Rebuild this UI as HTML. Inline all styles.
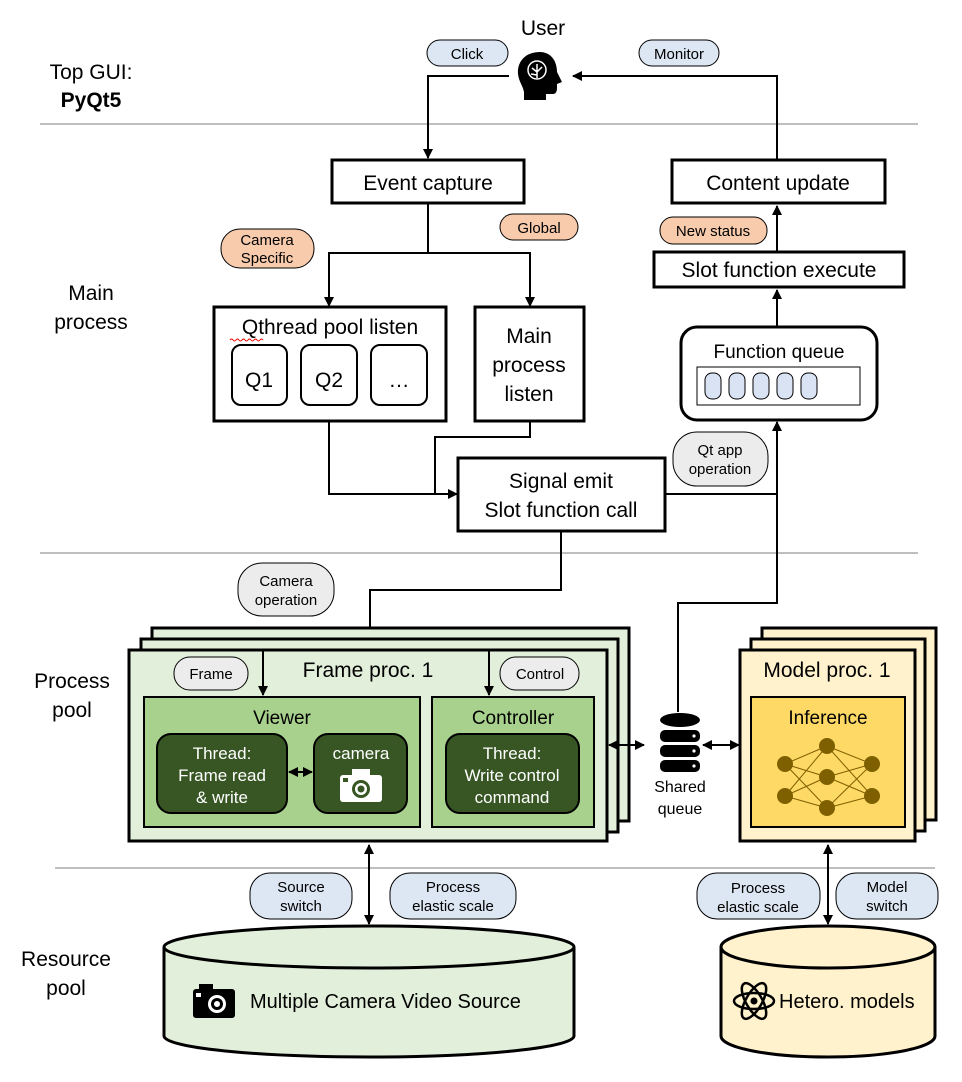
<!DOCTYPE html>
<html><head><meta charset="utf-8"><style>
html,body{margin:0;padding:0;background:#fff;}
svg{display:block;font-family:"Liberation Sans",Arial,sans-serif;}
</style></head><body>
<svg width="962" height="1082" viewBox="0 0 962 1082" xmlns="http://www.w3.org/2000/svg">
<defs>
<marker id="a" viewBox="0 0 10 10" refX="9" refY="5" markerWidth="5" markerHeight="5" orient="auto-start-reverse"><path d="M0,0L10,5L0,10z" fill="#000"/></marker>
</defs>
<g stroke="#bfbfbf" stroke-width="2">
<line x1="40" y1="124" x2="918" y2="124"/><line x1="40" y1="553" x2="918" y2="553"/><line x1="55" y1="868" x2="935" y2="868"/>
</g>
<g font-size="21" fill="#000" text-anchor="middle">
<text x="91" y="79">Top GUI:</text><text x="91" y="107" font-weight="bold">PyQt5</text>
<text x="91" y="300">Main</text><text x="91" y="329">process</text>
<text x="72" y="688">Process</text><text x="72" y="717">pool</text>
<text x="66" y="966">Resource</text><text x="66" y="995">pool</text>
<text x="543" y="35">User</text>
</g>
<g fill="#000">
<path d="M540,52 C525,52 517,62 518,74 C519,82 523,86 524,92 L524,100 L546,100 L546,94 L553,94 C556,94 557,91 557,88 L557,84 L562,82 L557,72 C557,60 550,52 540,52z"/>
</g>
<g stroke="#fff" stroke-width="1.5" fill="none"><circle cx="537" cy="70" r="9"/><path d="M537,64v14M532,68l5,4l5,-5M531,74l6,1"/></g>
<g stroke="#000" stroke-width="1" font-size="15" text-anchor="middle">
<rect x="427" y="40" width="81" height="26" rx="13" fill="#dde7f3"/><text x="467" y="59" stroke="none">Click</text>
<rect x="639" y="40" width="80" height="26" rx="13" fill="#dde7f3"/><text x="679" y="59" stroke="none">Monitor</text>
<rect x="221" y="229" width="93" height="39" rx="19" fill="#f8cbad"/><text x="267" y="245" stroke="none">Camera</text><text x="267" y="263" stroke="none">Specific</text>
<rect x="500" y="214" width="78" height="26" rx="13" fill="#f8cbad"/><text x="539" y="233" stroke="none">Global</text>
<rect x="660" y="217" width="107" height="27" rx="13" fill="#f8cbad"/><text x="713" y="236" stroke="none">New status</text>
<rect x="673" y="432" width="95" height="54" rx="24" fill="#ececec"/><text x="720" y="455" stroke="none">Qt app</text><text x="720" y="474" stroke="none">operation</text>
<rect x="238" y="563" width="96" height="53" rx="24" fill="#ececec"/><text x="286" y="586" stroke="none">Camera</text><text x="286" y="605" stroke="none">operation</text>
</g>
<g stroke="#000" stroke-width="2" fill="none">
<polyline points="509,76 428,76 428,158" marker-end="url(#a)"/>
<polyline points="777,160 777,76 573,76" marker-end="url(#a)"/>
<line x1="428" y1="203" x2="428" y2="253"/>
<polyline points="529,253 329,253 329,306" marker-end="url(#a)"/>
<polyline points="529,253 530,253 530,306" marker-end="url(#a)"/>
<line x1="777" y1="252" x2="777" y2="206" marker-end="url(#a)"/>
<line x1="777" y1="327" x2="777" y2="290" marker-end="url(#a)"/>
<polyline points="329,421 329,494 457,494" marker-end="url(#a)"/>
<polyline points="530,421 530,437 435,437 435,494"/>
<polyline points="665,494 777,494"/>
<polyline points="678,712 678,603 777,603 777,422" marker-end="url(#a)"/>
<polyline points="561,531 561,590 370,590 370,649" marker-end="url(#a)"/>
</g>
<g stroke="#000" stroke-width="3" fill="#fff">
<rect x="332" y="160" width="192" height="43"/>
<rect x="672" y="160" width="213" height="43"/>
<rect x="214" y="307" width="232" height="114"/>
<rect x="475" y="307" width="109" height="114"/>
<rect x="654" y="252" width="250" height="35"/>
<rect x="681" y="327" width="196" height="93" rx="16"/>
<rect x="458" y="458" width="207" height="73"/>
</g>
<g stroke="#000" stroke-width="2" fill="#fff">
<rect x="232" y="345" width="55" height="60" rx="9"/><rect x="301" y="345" width="56" height="60" rx="9"/><rect x="371" y="345" width="56" height="60" rx="9"/>
</g>
<rect x="697" y="367" width="163" height="38" fill="#fff" stroke="#000" stroke-width="1"/>
<g fill="#dae3f3" stroke="#000" stroke-width="1">
<rect x="705" y="373" width="16" height="26" rx="7"/><rect x="729" y="373" width="16" height="26" rx="7"/><rect x="753" y="373" width="16" height="26" rx="7"/><rect x="777" y="373" width="16" height="26" rx="7"/><rect x="801" y="373" width="16" height="26" rx="7"/>
</g>
<g font-size="21" text-anchor="middle" fill="#000">
<text x="428" y="190">Event capture</text>
<text x="778" y="190">Content update</text>
<text x="330" y="334">Qthread pool listen</text>
<text x="259" y="387">Q1</text><text x="329" y="387">Q2</text><text x="399" y="387">…</text>
<text x="529" y="343">Main</text><text x="529" y="372">process</text><text x="529" y="401">listen</text>
<text x="779" y="277">Slot function execute</text>
<text x="779" y="358" font-size="19">Function queue</text>
<text x="561" y="488">Signal emit</text><text x="561" y="517">Slot function call</text>
</g>
<path d="M230,340 q1.5,-2 3,0 t3,0 t3,0 t3,0 t3,0 t3,0 t3,0 t3,0 t3,0 t3,0 t3,0" stroke="#e00" stroke-width="1" fill="none"/>
<!-- frame proc stack -->
<g stroke="#000" stroke-width="3" fill="#e2efda">
<rect x="152" y="628" width="477" height="193"/><rect x="141" y="639" width="477" height="193"/><rect x="129" y="650" width="478" height="191"/>
</g>
<g stroke="#000" stroke-width="2" fill="#a9d18e"><rect x="144" y="697" width="276" height="130"/><rect x="432" y="697" width="162" height="130"/></g>
<g stroke="#000" stroke-width="2" fill="#375623"><rect x="157" y="734" width="130" height="79" rx="14"/><rect x="314" y="734" width="93" height="79" rx="14"/><rect x="446" y="734" width="133" height="79" rx="14"/></g>
<g stroke="#000" stroke-width="1" font-size="15" text-anchor="middle">
<rect x="174" y="657" width="74" height="33" rx="16" fill="#ececec"/><text x="211" y="679" stroke="none">Frame</text>
<rect x="500" y="657" width="79" height="33" rx="16" fill="#ececec"/><text x="540" y="679" stroke="none">Control</text>
</g>
<!-- model proc stack -->
<g stroke="#000" stroke-width="3" fill="#fff2cc">
<rect x="762" y="628" width="174" height="192"/><rect x="751" y="639" width="174" height="192"/><rect x="740" y="650" width="175" height="191"/>
</g>
<rect x="751" y="697" width="154" height="130" fill="#ffd966" stroke="#000" stroke-width="2"/>
<g stroke="#000" stroke-width="2" fill="none">
<line x1="263" y1="651" x2="263" y2="695" marker-end="url(#a)"/>
<line x1="489" y1="651" x2="489" y2="695" marker-end="url(#a)"/>
<line x1="289" y1="772" x2="312" y2="772" marker-start="url(#a)" marker-end="url(#a)"/>
<line x1="609" y1="745" x2="644" y2="745" marker-start="url(#a)" marker-end="url(#a)"/>
<line x1="703" y1="745" x2="739" y2="745" marker-start="url(#a)" marker-end="url(#a)"/>
<line x1="369" y1="845" x2="369" y2="924" marker-start="url(#a)" marker-end="url(#a)"/>
<line x1="828" y1="845" x2="828" y2="924" marker-start="url(#a)" marker-end="url(#a)"/>
</g>
<g font-size="21" text-anchor="middle" fill="#000">
<text x="368" y="677">Frame proc. 1</text>
<text x="282" y="724" font-size="19">Viewer</text>
<text x="513" y="724" font-size="19">Controller</text>
<text x="827" y="677">Model proc. 1</text>
<text x="828" y="724" font-size="19">Inference</text>
</g>
<g font-size="17" text-anchor="middle" fill="#fff">
<text x="222" y="759">Thread:</text><text x="222" y="781">Frame read</text><text x="222" y="803">&amp; write</text>
<text x="361" y="759">camera</text>
<text x="512" y="759">Thread:</text><text x="512" y="781">Write control</text><text x="512" y="803">command</text>
</g>
<g><rect x="340" y="775" width="42" height="27" rx="3" fill="#fff"/><rect x="352" y="769" width="18" height="8" fill="#fff"/><circle cx="361" cy="789" r="9" fill="#375623"/><circle cx="361" cy="789" r="6" fill="#fff"/><circle cx="361" cy="789" r="3.5" fill="#375623"/><rect x="343" y="778" width="5" height="4" fill="#375623"/></g>
<g fill="#000">
<ellipse cx="680" cy="720" rx="20" ry="7"/>
<rect x="660" y="730" width="40" height="12" rx="5"/><rect x="660" y="745" width="40" height="12" rx="5"/><rect x="660" y="760" width="40" height="12" rx="5"/>
</g>
<g fill="#fff"><circle cx="694" cy="736" r="1.6"/><circle cx="694" cy="751" r="1.6"/><circle cx="694" cy="766" r="1.6"/></g>
<text x="680" y="792" font-size="16" text-anchor="middle">Shared</text><text x="680" y="814" font-size="16" text-anchor="middle">queue</text>
<g stroke="#7f6000" stroke-width="1">
<path d="M785,764L827,746M785,764L827,777M785,764L827,808M785,796L827,746M785,796L827,777M785,796L827,808M827,746L872,764M827,746L872,796M827,777L872,764M827,777L872,796M827,808L872,764M827,808L872,796"/>
</g>
<g fill="#7f6000"><circle cx="785" cy="764" r="8"/><circle cx="785" cy="796" r="8"/><circle cx="827" cy="746" r="8"/><circle cx="827" cy="777" r="8"/><circle cx="827" cy="808" r="8"/><circle cx="872" cy="764" r="8"/><circle cx="872" cy="796" r="8"/></g>
<g stroke="#000" stroke-width="1" font-size="15" text-anchor="middle">
<rect x="250" y="873" width="102" height="46" rx="20" fill="#dde7f3"/><text x="301" y="892" stroke="none">Source</text><text x="301" y="911" stroke="none">switch</text>
<rect x="390" y="873" width="126" height="46" rx="20" fill="#dde7f3"/><text x="453" y="892" stroke="none">Process</text><text x="453" y="911" stroke="none">elastic scale</text>
<rect x="697" y="873" width="123" height="46" rx="20" fill="#dde7f3"/><text x="758" y="893" stroke="none">Process</text><text x="758" y="912" stroke="none">elastic scale</text>
<rect x="836" y="873" width="102" height="46" rx="20" fill="#dde7f3"/><text x="887" y="892" stroke="none">Model</text><text x="887" y="911" stroke="none">switch</text>
</g>
<g stroke="#000" stroke-width="3">
<path d="M164,947 L164,1036 A205,21 0 0 0 574,1036 L574,947" fill="#e2efda"/>
<ellipse cx="369" cy="947" rx="205" ry="21" fill="#e2efda"/>
<path d="M721,947 L721,1036 A107,21 0 0 0 935,1036 L935,947" fill="#fff2cc"/>
<ellipse cx="828" cy="947" rx="107" ry="21" fill="#fff2cc"/>
</g>
<g><rect x="193" y="989" width="42" height="29" rx="3"/><rect x="199" y="984" width="14" height="7"/><circle cx="217" cy="1004" r="9" fill="#fff"/><circle cx="217" cy="1004" r="6"/><circle cx="217" cy="1004" r="3" fill="#fff"/><rect x="196" y="993" width="5" height="4" fill="#fff"/></g>
<text x="250" y="1008" font-size="20">Multiple Camera Video Source</text>
<g stroke="#000" stroke-width="2.5" fill="none"><ellipse cx="754" cy="1001" rx="20" ry="8" transform="rotate(60 754 1001)"/><ellipse cx="754" cy="1001" rx="20" ry="8" transform="rotate(-60 754 1001)"/><ellipse cx="754" cy="1001" rx="20" ry="8"/></g>
<circle cx="754" cy="1001" r="3.5"/>
<text x="779" y="1008" font-size="20">Hetero. models</text>
</svg>
</body></html>
